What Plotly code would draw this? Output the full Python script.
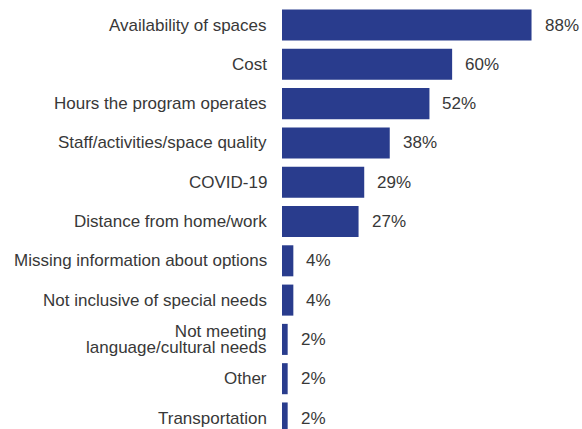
import plotly.graph_objects as go

categories = [
    "Availability of spaces",
    "Cost",
    "Hours the program operates",
    "Staff/activities/space quality",
    "COVID-19",
    "Distance from home/work",
    "Missing information about options",
    "Not inclusive of special needs",
    "Not meeting<br>language/cultural needs",
    "Other",
    "Transportation",
]
values = [88, 60, 52, 38, 29, 27, 4, 4, 2, 2, 2]
value_labels = [f"{v}%" for v in values]

bar_color = "#293c8d"
text_color = "#383838"
font_family = "Liberation Sans, Arial, sans-serif"
font_size = 17
# base size for wrapped labels: sets a tighter line spacing (1.3 x base)
wrap_base_size = 12

positions = list(range(len(categories)))

fig = go.Figure(
    go.Bar(
        x=values,
        y=positions,
        orientation="h",
        marker=dict(color=bar_color, line=dict(width=0)),
        width=0.79,
        hoverinfo="skip",
    )
)

annotations = []
for pos, cat in zip(positions, categories):
    lines = cat.split("<br>")
    if len(lines) > 1:
        text = "<br>".join(
            f'<span style="font-size:{font_size}px">{ln}</span>' for ln in lines
        )
        size = wrap_base_size
    else:
        text = cat
        size = font_size
    annotations.append(dict(
        x=0, y=pos, xref="x", yref="y", text=text, showarrow=False,
        xanchor="right", yanchor="middle", align="right", xshift=-13,
        font=dict(size=size, color=text_color, family=font_family),
    ))
for pos, v, lab in zip(positions, values, value_labels):
    annotations.append(dict(
        x=v, y=pos, xref="x", yref="y", text=lab, showarrow=False,
        xanchor="left", yanchor="middle", xshift=11,
        font=dict(size=font_size, color=text_color, family=font_family),
    ))

fig.update_layout(
    width=582, height=429,
    margin=dict(l=282, r=0, t=5, b=0),
    paper_bgcolor="white", plot_bgcolor="white",
    showlegend=False,
    xaxis=dict(range=[0, 105.8], visible=False, fixedrange=True),
    yaxis=dict(range=[10.28, -0.509], visible=False, fixedrange=True),
    annotations=annotations,
)

fig.write_html("out.html")
